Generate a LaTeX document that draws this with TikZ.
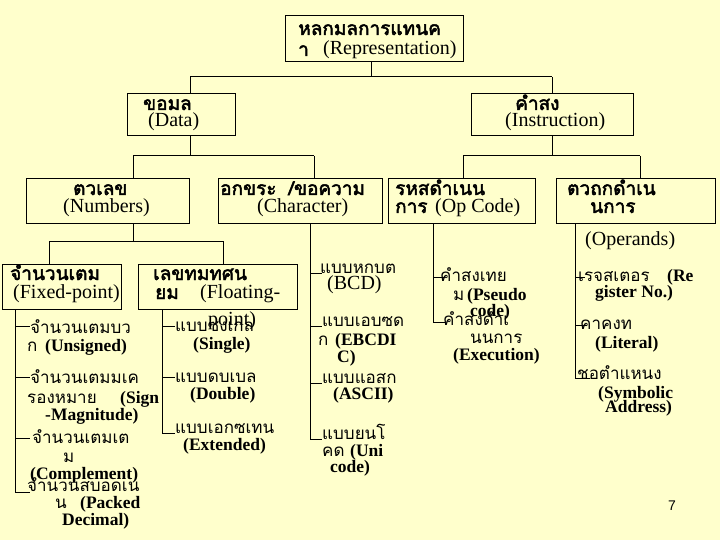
\documentclass[tikz,border=0pt]{standalone}
\usepackage{fontspec}
\setmainfont{Liberation Serif}
\newfontfamily\thaifont[Script=Thai,AutoFakeBold=2.5]{Loma}
\newfontfamily\pgnumfont{Liberation Sans}
\newcommand\thb{\thaifont\bfseries\fontsize{19}{21}\selectfont}
\newcommand\tnn{\thaifont\fontsize{17}{19}\selectfont}
\newcommand\enr{\rmfamily\mdseries\fontsize{20}{22}\selectfont}
\newcommand\enb{\rmfamily\bfseries\fontsize{17.5}{19}\selectfont}
\definecolor{bg}{HTML}{FFFFCC}
\begin{document}
\begin{tikzpicture}[x=1pt,y=-1pt,
  box/.style={draw=black, line width=1pt, inner sep=0pt},
  lbl/.style={anchor=base west, inner sep=0pt},
  ln/.style={draw=black, line width=1pt}]
\useasboundingbox (0,0) rectangle (720,540);
\fill[bg] (0,0) rectangle (720,540);
% boxes
\node[box, minimum width=178pt, minimum height=46pt] (rep) at (374,39) {};
\node[box, minimum width=108pt, minimum height=42pt] (data) at (181,115) {};
\node[box, minimum width=162pt, minimum height=42pt] (instr) at (552,115) {};
\node[box, minimum width=163pt, minimum height=45pt] (num) at (107.5,201.5) {};
\node[box, minimum width=164pt, minimum height=45pt] (chr) at (300,201.5) {};
\node[box, minimum width=147pt, minimum height=45pt] (opc) at (461.5,201.5) {};
\node[box, minimum width=159pt, minimum height=45pt] (opd) at (635.5,201.5) {};
\node[box, minimum width=119pt, minimum height=45pt] (fix) at (61.5,286.5) {};
\node[box, minimum width=159pt, minimum height=45pt] (flt) at (217.5,286.5) {};
% box texts
\node[lbl] (rep1) at (298,35) {\thb หลกมลการแทนค};
\node[lbl] (rep2) at (298,56) {\thb า};
\node[lbl] (rep3) at (323,55) {\enr (Representation)};
\node[lbl] (data1) at (143,110) {\thb ขอมล};
\node[lbl] (data2) at (148,127) {\enr (Data)};
\node[lbl] (instr1) at (515,110) {\thb คำสง};
\node[lbl] (instr2) at (505,127) {\enr (Instruction)};
\node[lbl] (num1) at (73,195) {\thb ตวเลข};
\node[lbl] (num2) at (63,212) {\enr (Numbers)};
\node[lbl] (chr1) at (220,195) {\thb อกขระ\hspace{12pt}/ขอความ};
\node[lbl] (chr2) at (257,212) {\enr (Character)};
\node[lbl] (opc1) at (395,195) {\thb รหสดำเนน};
\node[lbl] (opc2) at (395,213) {\thb การ};
\node[lbl] (opc3) at (435,212) {\enr (Op Code)};
\node[lbl] (opd1) at (567,195) {\thb ตวถกดำเน};
\node[lbl] (opd2) at (590,213) {\thb นการ};
\node[lbl] (opd3) at (585,245) {\enr (Operands)};
\node[lbl] (fix1) at (10,280) {\thb จำนวนเตม};
\node[lbl] (fix2) at (13,298) {\enr (Fixed-point)};
\node[lbl] (flt1) at (153,280) {\thb เลขทมทศน};
\node[lbl] (flt2) at (155,299) {\thb ยม};
\node[lbl] (flt3) at (200,298) {\enr (Floating-};
\node[lbl] (flt4) at (208,325) {\enr point)};
% fixed-point list
\node[lbl] (a1) at (30,333) {\tnn จำนวนเตมบว};
\node[lbl] (a2) at (27,351) {\tnn ก};
\node[lbl] (a3) at (45,351) {\enb (Unsigned)};
\node[lbl] (b1) at (30,383) {\tnn จำนวนเตมมเค};
\node[lbl] (b2) at (27,403) {\tnn รองหมาย};
\node[lbl] (b3) at (120,403) {\enb (Sign};
\node[lbl] (b4) at (45,420) {\enb -Magnitude)};
\node[lbl] (c1) at (32,443) {\tnn จำนวนเตมเต};
\node[lbl] (c2) at (63,462) {\tnn ม};
\node[lbl] (c3) at (30,479) {\enb (Complement)};
\node[lbl] (d1) at (27,491) {\tnn จำนวนสบอดเน};
\node[lbl] (d2) at (55,508) {\tnn น};
\node[lbl] (d3) at (80,508) {\enb (Packed};
\node[lbl] (d4) at (62,525) {\enb Decimal)};
% floating list
\node[lbl] (e1) at (175,331) {\tnn แบบซงเกล};
\node[lbl] (e2) at (193,349) {\enb (Single)};
\node[lbl] (f1) at (175,382) {\tnn แบบดบเบล};
\node[lbl] (f2) at (190,399) {\enb (Double)};
\node[lbl] (g1) at (175,433) {\tnn แบบเอกซเทน};
\node[lbl] (g2) at (183,450) {\enb (Extended)};
% character list
\node[lbl] (h1) at (320,273) {\tnn แบบหกบต};
\node[lbl] (h2) at (327,289) {\enr (BCD)};
\node[lbl] (i1) at (322,326) {\tnn แบบเอบซด};
\node[lbl] (i2) at (318,345) {\tnn ก};
\node[lbl] (i3) at (335,345) {\enb (EBCDI};
\node[lbl] (i4) at (337,362) {\enb C)};
\node[lbl] (k1) at (322,383) {\tnn แบบแอสก};
\node[lbl] (k2) at (333,399) {\enb (ASCII)};
\node[lbl] (l1) at (322,439) {\tnn แบบยนโ};
\node[lbl] (l2) at (322,456) {\tnn คด};
\node[lbl] (l3) at (350,456) {\enb (Uni};
\node[lbl] (l4) at (330,472) {\enb code)};
% opcode list
\node[lbl] (m1) at (440,281) {\tnn คำสงเทย};
\node[lbl] (m2) at (453,300) {\tnn ม};
\node[lbl] (m3) at (467,300) {\enb (Pseudo};
\node[lbl] (m4) at (470,316) {\enb code)};
\node[lbl] (n1) at (443,325) {\tnn คำสงดำเ};
\node[lbl] (n2) at (470,343) {\tnn นนการ};
\node[lbl] (n3) at (453,360) {\enb (Execution)};
% operand list
\node[lbl] (o1) at (578,281) {\tnn เรจสเตอร};
\node[lbl] (o2) at (667,281) {\enb (Re};
\node[lbl] (o3) at (595,297) {\enb gister No.)};
\node[lbl] (p1) at (580,329) {\tnn คาคงท};
\node[lbl] (p2) at (595,348) {\enb (Literal)};
\node[lbl] (q1) at (577,379) {\tnn ชอตำแหนง};
\node[lbl] (q2) at (598,398) {\enb (Symbolic};
\node[lbl] (q3) at (605,412) {\enb Address)};
% page number
\node[lbl] (pg) at (668,510) {\pgnumfont\fontsize{14}{16}\selectfont 7};
% connectors level 1
\coordinate (j0) at (371,77);
\coordinate (dj) at (190,77);
\coordinate (ij) at (552,77);
\draw[ln] (j0 |- rep.south) -- (j0);
\draw[ln] (dj) -- (ij);
\draw[ln] (dj) -- (dj |- data.north);
\draw[ln] (ij) -- (ij |- instr.north);
% level 2
\coordinate (dd) at (190,156);
\coordinate (nj) at (133,156);
\coordinate (cj) at (314,156);
\draw[ln] (dd |- data.south) -- (dd);
\draw[ln] (nj) -- (cj);
\draw[ln] (nj) -- (nj |- num.north);
\draw[ln] (cj) -- (cj |- chr.north);
\coordinate (ii) at (552,156);
\coordinate (oj) at (463,156);
\coordinate (pj) at (640,156);
\draw[ln] (ii |- instr.south) -- (ii);
\draw[ln] (oj) -- (pj);
\draw[ln] (oj) -- (oj |- opc.north);
\draw[ln] (pj) -- (pj |- opd.north);
% level 3
\coordinate (nn) at (133,241);
\coordinate (fj) at (49,241);
\coordinate (flj) at (223,241);
\draw[ln] (nn |- num.south) -- (nn);
\draw[ln] (fj) -- (flj);
\draw[ln] (fj) -- (fj |- fix.north);
\draw[ln] (flj) -- (flj |- flt.north);
% fixed list lines
\coordinate (va) at (15,326); \coordinate (vb) at (15,377);
\coordinate (vc) at (15,438); \coordinate (vd) at (15,492);
\draw[ln] (vd |- fix.south) -- (vd);
\draw[ln] (va) -- ++(15,0);
\draw[ln] (vb) -- ++(15,0);
\draw[ln] (vc) -- ++(15,0);
\draw[ln] (vd) -- ++(15,0);
% floating list lines
\coordinate (ve) at (162,326); \coordinate (vf) at (162,377); \coordinate (vg) at (162,433);
\draw[ln] (vg |- flt.south) -- (vg);
\draw[ln] (ve) -- ++(13,0);
\draw[ln] (vf) -- ++(13,0);
\draw[ln] (vg) -- ++(13,0);
% character list lines
\coordinate (vh) at (310,273); \coordinate (vi) at (310,326);
\coordinate (vk) at (310,383); \coordinate (vl) at (310,439);
\draw[ln] (vl |- chr.south) -- (vl);
\draw[ln] (vh) -- ++(12,0);
\draw[ln] (vi) -- ++(12,0);
\draw[ln] (vk) -- ++(12,0);
\draw[ln] (vl) -- ++(12,0);
% opcode list lines
\coordinate (vm) at (433,277); \coordinate (vn) at (433,322);
\draw[ln] (vn |- opc.south) -- (vn);
\draw[ln] (vm) -- ++(12,0);
\draw[ln] (vn) -- ++(12,0);
% operand list lines
\coordinate (vo) at (575,277); \coordinate (vp) at (575,325); \coordinate (vq) at (575,378);
\draw[ln] (vq |- opd.south) -- (vq);
\draw[ln] (vo) -- ++(10,0);
\draw[ln] (vp) -- ++(12,0);
\draw[ln] (vq) -- ++(15,0);
\end{tikzpicture}
\end{document}
